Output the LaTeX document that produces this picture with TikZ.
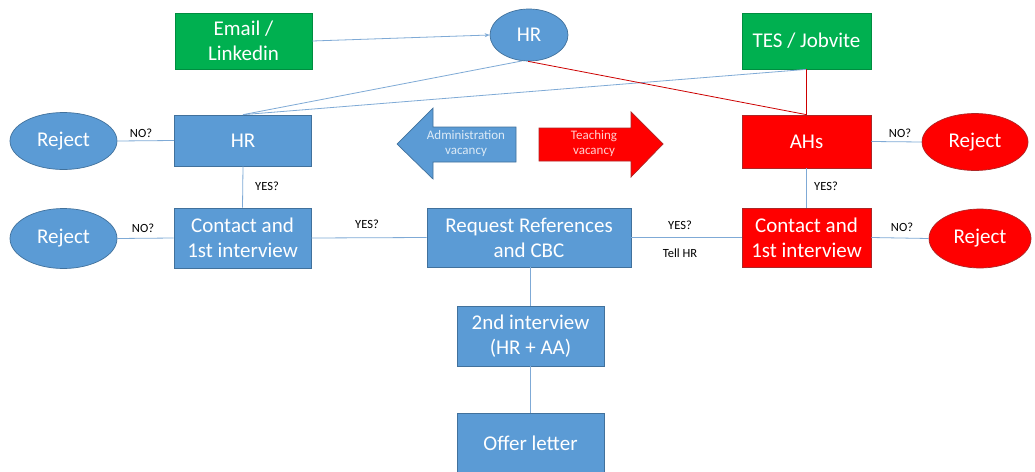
\documentclass[tikz,border=0pt]{standalone}
\usepackage{fontspec}
\setmainfont{Carlito}
\usetikzlibrary{shapes.geometric,arrows.meta}
\definecolor{bluefill}{HTML}{5B9BD5}
\definecolor{blueline}{HTML}{41719C}
\definecolor{greenfill}{HTML}{00B050}
\definecolor{redfill}{HTML}{FF0000}
\definecolor{redline}{HTML}{C00000}
\definecolor{conn}{HTML}{7FAAD6}
\definecolor{admintext}{HTML}{DDEBF7}
\definecolor{teachtext}{HTML}{FFD0D0}
\tikzset{
  box/.style={draw=blueline, line width=0.7pt, fill=bluefill, text=white, font=\fontsize{21}{25}\selectfont, align=center, inner sep=0pt},
  gbox/.style={box, draw=greenfill!80!black, fill=greenfill},
  rbox/.style={box, draw=redline!70!gray, fill=redfill},
  oval/.style={ellipse, draw=blueline, line width=0.7pt, fill=bluefill, text=white, font=\fontsize{21}{25}\selectfont, inner sep=0pt},
  roval/.style={oval, draw=redline!70!gray, fill=redfill},
  lbl/.style={font=\fontsize{12.5}{14}\selectfont, text=black, inner sep=0pt},
  link/.style={draw=conn, line width=0.8pt},
  rlink/.style={draw=redline!80!red, line width=0.8pt},
  bigarrow/.style={line width=0.7pt}
}
\begin{document}
\begin{tikzpicture}[x=1pt,y=-1pt]
\useasboundingbox (0,0) rectangle (1035,471);
\fill[white] (0,0) rectangle (1035,471);

% nodes
\node[gbox, minimum width=137pt, minimum height=56pt] (email) at (243.5,41) {Email /\\Linkedin};
\node[oval, minimum width=78pt, minimum height=52pt] (hrtop) at (529,35) {HR};
\node[gbox, minimum width=129pt, minimum height=56pt] (tes) at (806.5,41) {TES / Jobvite};

\node[box, minimum width=137pt, minimum height=51pt] (hr) at (243,140.5) {HR};
\node[oval, minimum width=107pt, minimum height=57pt] (rejTL) at (63.5,141) {Reject};
\node[rbox, minimum width=129pt, minimum height=53pt] (ahs) at (806.5,141.5) {AHs};
\node[roval, minimum width=106pt, minimum height=57pt] (rejTR) at (975,142) {Reject};

\node[box, minimum width=137pt, minimum height=60pt] (contactL) at (242.5,238) {Contact and\\1st interview};
\node[oval, minimum width=107pt, minimum height=60pt] (rejBL) at (63.5,238.5) {Reject};
\node[box, minimum width=204pt, minimum height=59pt] (request) at (529,237.5) {Request References\\and CBC};
\node[rbox, minimum width=129pt, minimum height=59pt] (contactR) at (806.5,237.5) {Contact and\\1st interview};
\node[roval, minimum width=102pt, minimum height=59pt] (rejBR) at (980,238.5) {Reject};

\node[box, minimum width=147pt, minimum height=60pt] (second) at (530.5,336) {2nd interview\\(HR + AA)};
\node[box, minimum width=147pt, minimum height=60pt] (offer) at (530.5,443) {Offer letter};

% block arrows
\draw[bigarrow, draw=blueline, fill=bluefill] (516,127) -- (433,127) -- (433,108) -- (397,144) -- (433,179) -- (433,162) -- (516,162) -- cycle;
\node[font=\fontsize{13}{15}\selectfont, text=admintext, align=center] (admin) at (466,144) {Administration\\vacancy};
\draw[bigarrow, draw=redline!70!gray, fill=redfill] (539,128) -- (631,128) -- (631,112) -- (663,144) -- (631,177) -- (631,161) -- (539,161) -- cycle;
\node[font=\fontsize{13}{15}\selectfont, text=teachtext, align=center] (teach) at (594,144) {Teaching\\vacancy};

% connectors
\draw[link, -{Stealth[length=5pt,width=4pt]}] (email.east) -- (hrtop.west);
\draw[link] (hrtop.255) -- (hr.north);
\draw[link] (tes.south) -- (hr.north);
\draw[rlink] (hrtop.268) -- (ahs.north);
\draw[rlink] (tes.south) -- (ahs.north);

\draw[link] (hr.west) -- (rejTL.east);
\draw[link] (hr.south) -- (contactL.north);
\draw[link] (contactL.west) -- (rejBL.east);
\draw[link] (contactL.east) -- (request.west);
\draw[link] (request.east) -- (contactR.west);
\draw[link] (contactR.east) -- (rejBR.west);
\draw[link] (ahs.east) -- (rejTR.west);
\draw[link] (ahs.south) -- (contactR.north);
\draw[link] (second.north |- request.south) -- (second.north);
\draw[link] (second.south) -- (offer.north);

% labels
\node[lbl] (l1) at (141,133) {NO?};
\node[lbl] (l2) at (267,186) {YES?};
\node[lbl] (l3) at (143,228) {NO?};
\node[lbl] (l4) at (367,224) {YES?};
\node[lbl] (l5) at (680,225) {YES?};
\node[lbl] (l6) at (680,253) {Tell HR};
\node[lbl] (l7) at (902,227) {NO?};
\node[lbl] (l8) at (900,133) {NO?};
\node[lbl] (l9) at (826,186) {YES?};
\end{tikzpicture}
\end{document}
